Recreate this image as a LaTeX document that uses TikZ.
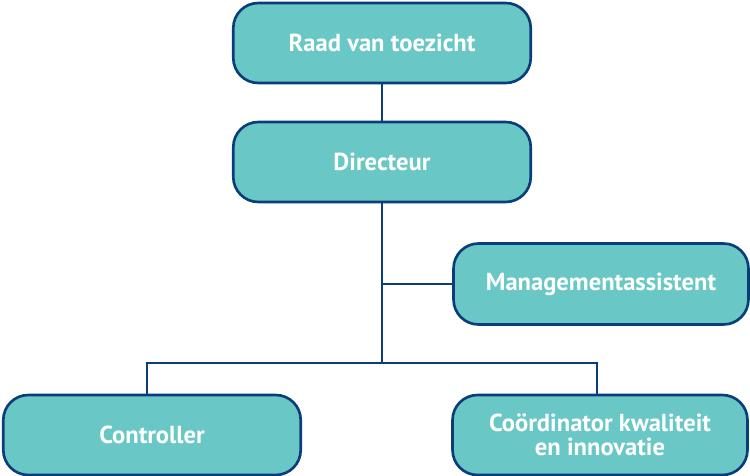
\documentclass[tikz,border=0pt]{standalone}
\usepackage{fontspec}
\setmainfont{PT Sans}
\usepackage{tikz}
\usetikzlibrary{positioning}
\definecolor{boxteal}{RGB}{105,200,197}
\definecolor{linenavy}{RGB}{10,61,122}

\begin{document}
\begin{tikzpicture}[
    x=0.02cm,
    y=-0.02cm,
    org node/.style={rectangle,rounded corners=0.5cm,fill=boxteal,draw=linenavy,line width=1.5pt,
        minimum width=5.95cm,minimum height=1.6cm,align=center,text=white,
        font=\fontsize{14}{13.6}\selectfont\bfseries},
    link/.style={draw=linenavy,line width=1.5pt}
]
\useasboundingbox (0,0) rectangle (750,476);

% Top
\node[org node] (raad) at (382,43) {Raad van toezicht};
\node[org node] (dir) at (382,162) {Directeur};

% Staff
\node[org node,minimum width=5.9cm,minimum height=1.62cm] (mgmt) at (601,284) {Managementassistent};

% Bottom row
\node[org node] (ctrl) at (152,435) {Controller};
\node[org node,minimum width=5.9cm] (coord) at (600,435) {Coördinator kwaliteit\\en innovatie};

% Junctions
\coordinate (split) at (382,363);
\coordinate (left) at (147,363);
\coordinate (right) at (597,363);

% Lines
\draw[link] (raad) -- (dir);
\draw[link] (dir) -- (split);
\draw[link] (mgmt.west) -- (mgmt.west -| dir);
\draw[link] (ctrl.north -| left) -- (left) -- (right) -- (coord.north -| right);

\end{tikzpicture}
\end{document}
